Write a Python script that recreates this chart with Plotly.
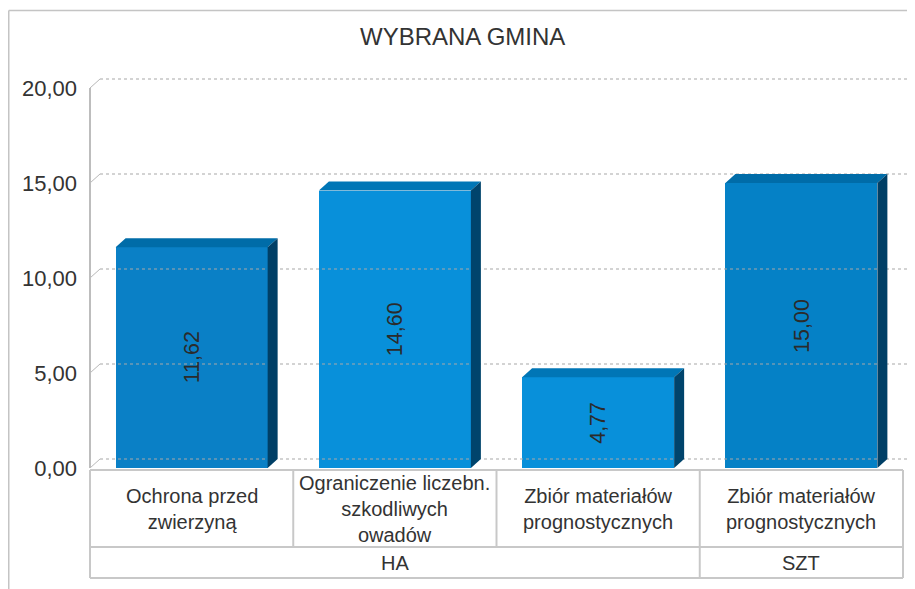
import plotly.graph_objects as go

# ---- data ----
categories = [
    "Ochrona przed<br>zwierzyną",
    "Ograniczenie liczebn.<br>szkodliwych<br>owadów",
    "Zbiór materiałów<br>prognostycznych",
    "Zbiór materiałów<br>prognostycznych",
]
values = [11.62, 14.60, 4.77, 15.00]
value_labels = ["11,62", "14,60", "4,77", "15,00"]
groups = ["HA", "SZT"]
group_spans = [(0, 2), (3, 3)]
tick_values = [0, 5, 10, 15, 20]
tick_labels = ["0,00", "5,00", "10,00", "15,00", "20,00"]
title_text = "WYBRANA GMINA"

# ---- layout geometry (page has an 8px body margin) ----
OX, OY = 8, 8
W, H = 915 - OX, 589 - OY
L, R, T, B = 90 - OX - 2, 0, 78 - OY, 121
plot_w = W - L - R
plot_h = H - T - B
slot_px = 203.25
px_per_unit = 19.0
xmin = -0.5 - 2 / slot_px
xmax = -0.5 + (plot_w - 2) / slot_px
ymin, ymax = 0, plot_h / px_per_unit
dx = 10 / slot_px
dy = 9 / px_per_unit
bw = 0.748

FONT = "Liberation Sans, Arial, sans-serif"
TXT = "#333333"

front_cols = ["#0a80c6", "#0890da", "#0890da", "#0581c6"]
top_cols = ["#006ca8", "#0076b6", "#0076b6", "#006ca8"]
side_cols = ["#003f66", "#00446c", "#00446c", "#003f66"]


def pxx(p):
    return (p - OX - L) / plot_w


def pxy(p):
    return (H - B - (p - OY)) / plot_h


def dx2paper(x):
    return (x - xmin) / (xmax - xmin)


fig = go.Figure()

# back-wall gridlines
for v in tick_values:
    fig.add_trace(go.Scatter(x=[-0.5, -0.5 + dx], y=[v, v + dy], mode="lines",
                             line=dict(color="#b8b8b8", width=1), hoverinfo="skip",
                             showlegend=False))
    fig.add_trace(go.Scatter(x=[-0.5 + dx, xmax], y=[v + dy, v + dy], mode="lines",
                             line=dict(color="#a8a8a8", width=1.2, dash="dot"),
                             hoverinfo="skip", showlegend=False))

# front axis line
fig.add_trace(go.Scatter(x=[-0.5, -0.5], y=[0, tick_values[-1]], mode="lines",
                         line=dict(color="#bdbdbd", width=2), hoverinfo="skip",
                         showlegend=False))

# bars: front faces
xs = list(range(len(values)))
fig.add_trace(go.Bar(x=xs, y=values, width=bw, marker=dict(color=front_cols, line=dict(width=0)),
                     hoverinfo="skip", showlegend=False))

# bars: top and side faces
for i, v in enumerate(values):
    x0, x1 = i - bw / 2, i + bw / 2
    fig.add_trace(go.Scatter(x=[x0, x0 + dx, x1 + dx, x1, x0], y=[v, v + dy, v + dy, v, v],
                             fill="toself", fillcolor=top_cols[i], mode="lines",
                             line=dict(width=0, color=top_cols[i]), hoverinfo="skip",
                             showlegend=False))
    fig.add_trace(go.Scatter(x=[x1, x1, x1 + dx, x1 + dx, x1], y=[0, v, v + dy, dy, 0],
                             fill="toself", fillcolor=side_cols[i], mode="lines",
                             line=dict(width=0, color=side_cols[i]), hoverinfo="skip",
                             showlegend=False))

annotations = []
# value labels
for i, v in enumerate(values):
    annotations.append(dict(x=i, y=v / 2, xref="x", yref="y", text=value_labels[i],
                            textangle=-90, showarrow=False,
                            font=dict(family=FONT, size=21.5, color="#2b2b2b")))

# category labels
row1_top, row1_bot, row2_bot = 470, 547, 578
for i, c in enumerate(categories):
    annotations.append(dict(x=i, y=pxy((row1_top + row1_bot) / 2), xref="x", yref="paper",
                            text=c, showarrow=False, yanchor="middle",
                            font=dict(family=FONT, size=20, color=TXT)))
for g, (a, b) in zip(groups, group_spans):
    annotations.append(dict(x=(a + b) / 2, y=pxy((row1_bot + row2_bot) / 2), xref="x",
                            yref="paper", text=g, showarrow=False, yanchor="middle",
                            font=dict(family=FONT, size=20, color=TXT)))

# title
annotations.append(dict(x=pxx(462), y=pxy(37), xref="paper", yref="paper", text=title_text,
                        showarrow=False, yanchor="middle",
                        font=dict(family=FONT, size=24, color=TXT)))

shapes = []
LC = "#c8c8c8"
tx0, tx1 = dx2paper(-0.5), dx2paper(3.5)


def hline(y, xa, xb):
    shapes.append(dict(type="line", xref="paper", yref="paper", x0=xa, x1=xb, y0=y, y1=y,
                       line=dict(color=LC, width=2)))


def vline(x, ya, yb):
    shapes.append(dict(type="line", xref="paper", yref="paper", x0=x, x1=x, y0=ya, y1=yb,
                       line=dict(color=LC, width=2)))


hline(pxy(row1_top), tx0, tx1)
hline(pxy(row1_bot), tx0, tx1)
hline(pxy(row2_bot), tx0, tx1)
vline(tx0, pxy(row1_top), pxy(row2_bot))
vline(tx1, pxy(row1_top), pxy(row2_bot))
for k in range(1, len(categories)):
    vline(dx2paper(k - 0.5), pxy(row1_top), pxy(row1_bot))
for a, b in group_spans[1:]:
    vline(dx2paper(a - 0.5), pxy(row1_bot), pxy(row2_bot))

# outer chart border (left and top); left edge clamped to the drawable page area
shapes.append(dict(type="line", xref="paper", yref="paper", x0=pxx(8.75), x1=pxx(8.75),
                   y0=pxy(10.5), y1=pxy(600), line=dict(color="#c4c4c4", width=1.5)))
shapes.append(dict(type="line", xref="paper", yref="paper", x0=pxx(8.75), x1=pxx(920),
                   y0=pxy(10.5), y1=pxy(10.5), line=dict(color="#c4c4c4", width=1.5)))

fig.update_layout(
    width=W, height=H,
    margin=dict(l=L, r=R, t=T, b=B, pad=0),
    paper_bgcolor="white", plot_bgcolor="white",
    showlegend=False,
    bargap=0,
    xaxis=dict(range=[xmin, xmax], showgrid=False, zeroline=False, showticklabels=False,
               showline=False, fixedrange=True),
    yaxis=dict(range=[ymin, ymax], showgrid=False, zeroline=False, showline=False,
               tickvals=tick_values, ticktext=tick_labels, ticks="",
               ticklabelstandoff=10, automargin=False,
               tickfont=dict(family=FONT, size=22, color=TXT), fixedrange=True),
    annotations=annotations,
    shapes=shapes,
)

fig.write_html("out.html")
